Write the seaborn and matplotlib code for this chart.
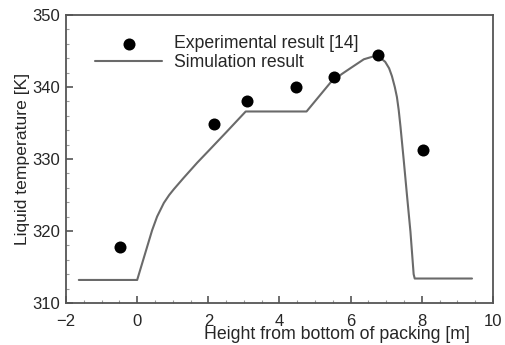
import matplotlib
matplotlib.use("Agg")
import matplotlib.pyplot as plt
import seaborn as sns
import pandas as pd
from matplotlib.ticker import MultipleLocator, FuncFormatter

# Experimental data
exp_x = [-0.47, 2.17, 3.09, 4.47, 5.54, 6.77, 8.03]
exp_y = [317.8, 334.8, 338.0, 340.0, 341.4, 344.4, 331.3]

# Simulation curve
sim_x = [-1.64, 0.0, 0.14, 0.28, 0.42, 0.56, 0.75, 0.90, 1.03, 1.31, 1.69, 2.0,
         2.5, 3.05, 4.76, 5.43, 5.75, 5.99, 6.37, 6.74, 6.97, 7.08, 7.16, 7.24,
         7.30, 7.35, 7.40, 7.49, 7.58, 7.68, 7.77, 7.80, 9.41]
sim_y = [313.2, 313.2, 315.5, 317.8, 320.1, 322.0, 323.9, 325.0, 325.8, 327.4,
         329.5, 331.1, 333.7, 336.6, 336.6, 340.6, 341.8, 342.6, 343.85, 344.4,
         343.5, 342.6, 341.5, 340.0, 338.6, 336.8, 334.5, 329.9, 325.1, 319.9,
         314.0, 313.4, 313.4]

xlabel = "Height from bottom of packing [m]"
ylabel = "Liquid temperature [K]"
exp_label = "Experimental result [14]"
sim_label = "Simulation result"

sns.set_style("ticks")
plt.rcParams['font.family'] = ['Liberation Sans', 'DejaVu Sans']

fig = plt.figure(figsize=(5.06, 3.45), dpi=100)
ax = fig.add_axes([66/506, 1-303/345, (493-66)/506, (303-15)/345])

df_sim = pd.DataFrame({"x": sim_x, "y": sim_y})
df_exp = pd.DataFrame({"x": exp_x, "y": exp_y})

sns.lineplot(data=df_sim, x="x", y="y", sort=False, estimator=None, ax=ax,
             color="#6a6a6a", linewidth=1.5, label=sim_label)
sns.scatterplot(data=df_exp, x="x", y="y", ax=ax, color="black", s=75,
                edgecolor="black", linewidth=0, label=exp_label, zorder=3)

ax.set_xlim(-2, 10)
ax.set_ylim(310, 350)
ax.xaxis.set_major_locator(MultipleLocator(2))
ax.xaxis.set_minor_locator(MultipleLocator(0.5))
ax.yaxis.set_major_locator(MultipleLocator(10))
ax.yaxis.set_minor_locator(MultipleLocator(2))
ax.xaxis.set_major_formatter(FuncFormatter(
    lambda v, p: ("\u2212" if v < 0 else "") + f"{abs(v):g}"))
ax.tick_params(which="major", direction="in", length=5, width=1.2,
               color="#555555", labelsize=12)
ax.tick_params(axis="x", which="major", pad=8)
ax.tick_params(axis="y", which="major", pad=4)
ax.tick_params(which="minor", direction="in", length=2.5, width=0.8,
               color="#999999")
ax.tick_params(axis="x", which="both", top=False)
ax.tick_params(axis="y", which="both", right=False)
for s in ax.spines.values():
    s.set_visible(True)
    s.set_color("#555555")
    s.set_linewidth(1.3)

ax.set_xlabel(xlabel, fontsize=12.8)
ax.xaxis.set_label_coords(0.635, -0.079)
ax.set_ylabel(ylabel, fontsize=12.6, labelpad=2)

handles, labels = ax.get_legend_handles_labels()
order = [labels.index(exp_label), labels.index(sim_label)]
ax.legend([handles[i] for i in order], [labels[i] for i in order],
          loc="upper left", bbox_to_anchor=(0.068, 0.93), frameon=False,
          borderaxespad=0, borderpad=0, handlelength=3.8, handletextpad=0.68,
          labelspacing=0.12, fontsize=12.7, markerscale=1.0)

fig.savefig("out.png", dpi=100)
